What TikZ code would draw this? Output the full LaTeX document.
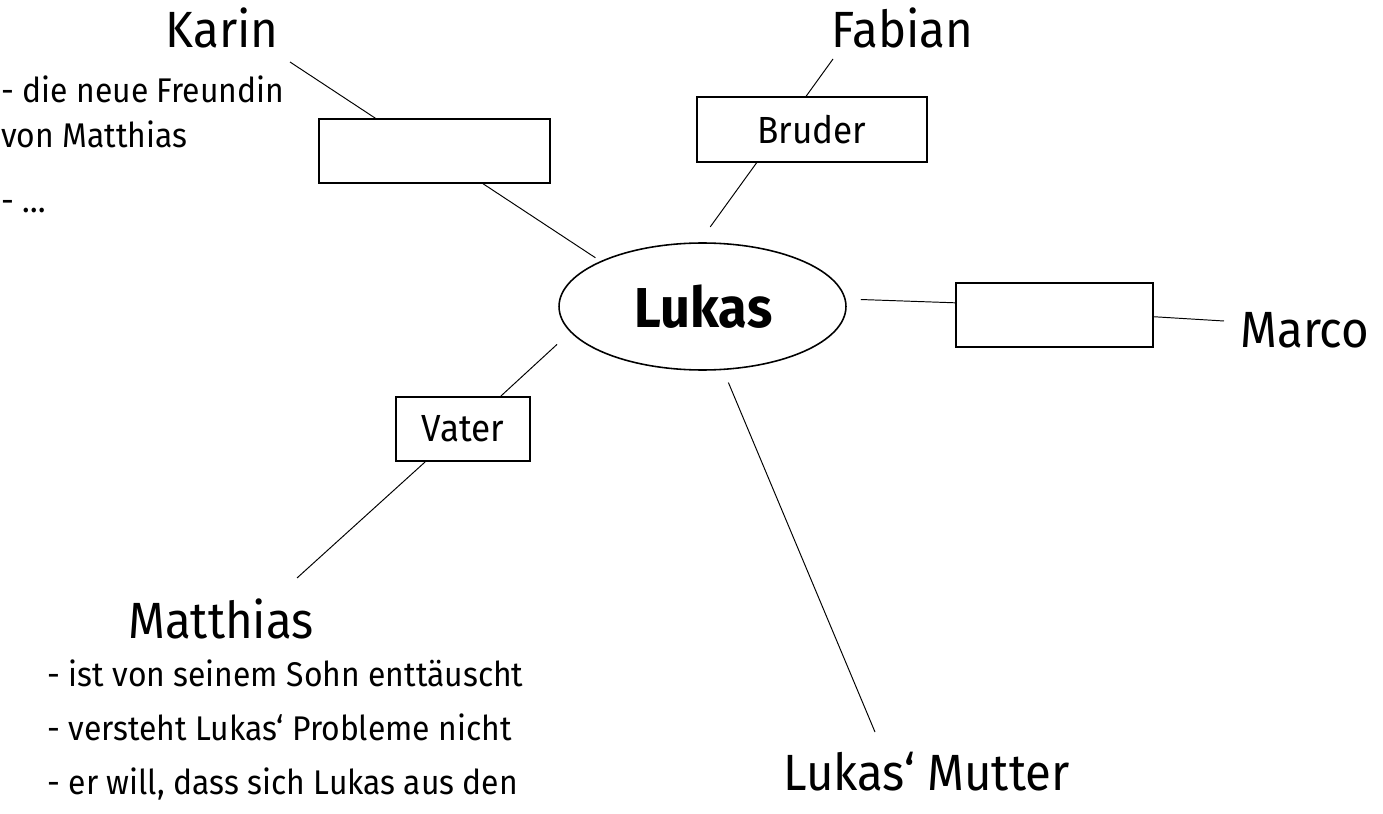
\documentclass[tikz,border=0pt]{standalone}
\usepackage{fontspec}
\setmainfont{Fira Sans}[FakeStretch=0.93]
\usetikzlibrary{shapes.geometric}

\tikzset{
  person/.style={font=\fontsize{29}{34}\selectfont, inner sep=0pt, anchor=base},
  notiz/.style={font=\fontsize{19.5}{23}\selectfont, inner sep=0pt, anchor=base west},
  kasten/.style={draw, line width=0.9pt, font=\fontsize{21.5}{26}\selectfont},
  verbindung/.style={line width=0.55pt}
}

\begin{document}
\begin{tikzpicture}[x=0.02cm, y=-0.02cm]
    \useasboundingbox (0,0) rectangle (1383,814);

    \node[ellipse, draw, line width=0.9pt, minimum width=5.74cm, minimum height=2.54cm] (lukas) at (702.5,306.5) {};
    \node[font=\fontsize{32}{38}\selectfont\bfseries, inner sep=0pt, anchor=base] (lukasname) at (703.5,327) {Lukas};

    \node[kasten, minimum width=4.62cm, minimum height=1.28cm] (karinbox) at (434.5,151) {};
    \node[kasten, minimum width=4.6cm, minimum height=1.3cm] (bruder) at (812,129.5) {Bruder};
    \node[kasten, minimum width=3.94cm, minimum height=1.28cm] (marcobox) at (1054.5,315) {};
    \node[kasten, minimum width=2.68cm, minimum height=1.28cm] (vater) at (463,429) {Vater};

    \node[person] (karin) at (222,48) {Karin};
    \node[person] (fabian) at (902.5,48) {Fabian};
    \node[person, anchor=base west] (marco) at (1240,347) {Marco};
    \node[person] (matthias) at (221,638) {Matthias};
    \node[person, anchor=base west] (mutter) at (783,790) {Lukas‘ Mutter};

    \node[notiz] (karin1) at (1,103) {- die neue Freundin};
    \node[notiz] (karin2) at (1,148) {von Matthias};
    \node[notiz] (karin3) at (1,213) {- …};

    \node[notiz] (matthias1) at (47,686) {- ist von seinem Sohn enttäuscht};
    \node[notiz] (matthias2) at (47,740) {- versteht Lukas‘ Probleme nicht};
    \node[notiz] (matthias3) at (47,794) {- er will, dass sich Lukas aus den};

    \coordinate (karinend) at (290,62);
    \coordinate (fabianend) at (833,59);
    \coordinate (marcoend) at (1224,321);
    \coordinate (matthiasend) at (297,578);
    \coordinate (mutterend) at (875,732);

    \draw[verbindung] (karinend) -- (karinbox.151);
    \draw[verbindung, shorten >=0.12cm] (karinbox.-34.5) -- (lukas.156);
    \draw[verbindung] (fabianend) -- (bruder.100.5);
    \draw[verbindung, shorten >=0.38cm] (bruder.-149) -- (lukas.93);
    \draw[verbindung, shorten <=0.3cm] (lukas.3.3) -- (marcobox.173.6);
    \draw[verbindung] (marcobox.-1.2) -- (marcoend);
    \draw[verbindung, shorten <=0.36cm] (lukas.-169.6) -- (vater.41);
    \draw[verbindung] (vater.-139) -- (matthiasend);
    \draw[verbindung, shorten <=0.27cm] (lukas.-72.2) -- (mutterend);
\end{tikzpicture}
\end{document}
